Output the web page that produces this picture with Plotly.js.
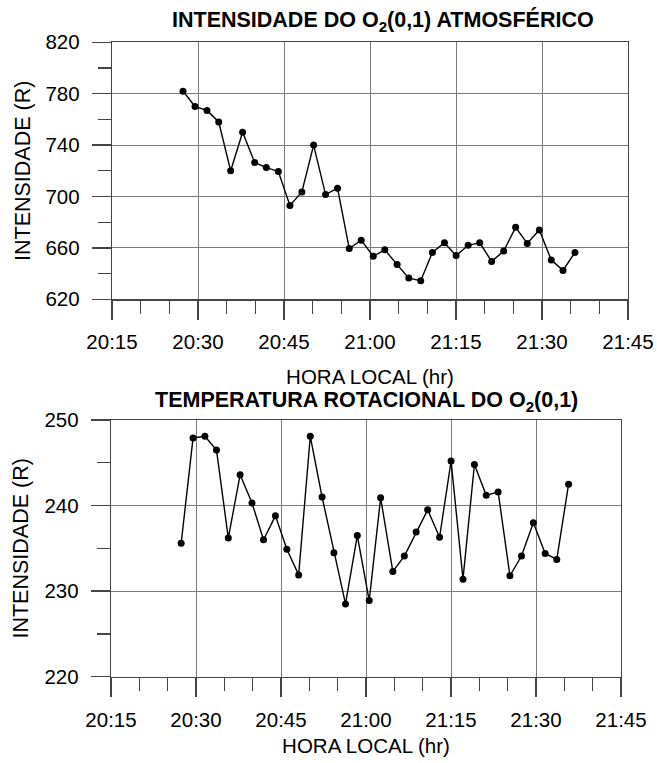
<!DOCTYPE html>
<html>
<head>
<meta charset="utf-8">
<script src="https://cdn.plot.ly/plotly-3.0.1.min.js"></script>
<style>html,body{margin:0;padding:0;background:#fff;}#chart{width:657px;height:763px;}</style>
</head>
<body>
<div id="chart"></div>
<script>
// Local time of each measurement
const horaLocal = [
  "20:27:23","20:29:29","20:31:34","20:33:37","20:35:42","20:37:47","20:39:53","20:41:55",
  "20:44:01","20:46:02","20:48:07","20:50:10","20:52:15","20:54:20","20:56:23","20:58:28",
  "21:00:34","21:02:35","21:04:44","21:06:46","21:08:51","21:10:53","21:12:59","21:15:01",
  "21:17:07","21:19:08","21:21:13","21:23:19","21:25:24","21:27:26","21:29:32","21:31:37",
  "21:33:40","21:35:45"
];
// O2(0,1) intensity (R)
const intensidade = [
  782, 770, 767, 758, 720, 750, 726.5, 722.5,
  719.5, 693, 703.5, 740, 701.5, 706.5, 659.5, 666,
  653.5, 658.5, 647, 636.5, 634.5, 656.5, 664, 654,
  662, 664, 649.5, 657.5, 676, 663.5, 674, 650.5,
  642.5, 656.5
];
// O2(0,1) rotational temperature
const temperatura = [
  235.6, 247.9, 248.1, 246.5, 236.2, 243.6, 240.3, 236.0,
  238.8, 234.9, 231.9, 248.1, 241.0, 234.5, 228.5, 236.5,
  228.9, 240.9, 232.3, 234.1, 236.9, 239.5, 236.3, 245.2,
  231.4, 244.8, 241.2, 241.6, 231.8, 234.1, 238.0, 234.4,
  233.7, 242.5
];
// Tick labels (minutes after 20:00 for positions)
const tickLabels = ["20:15","20:30","20:45","21:00","21:15","21:30","21:45"];
const tickMinutes = [15, 30, 45, 60, 75, 90, 105];

function toMinutes(s) {
  const p = s.split(":").map(Number);
  return (p[0] - 20) * 60 + p[1] + p[2] / 60;
}
const xMin = horaLocal.map(toMinutes);

const W = 657, H = 763;
const px = v => v / W;
const py = v => (H - v) / H;

const font = {family: "Liberation Sans, Arial, sans-serif", color: "#000"};
const axisLine = "#444";
const gridCol = "#7a7a7a";

function xaxis(domain, anchor, standoff) {
  return {
    domain: domain, anchor: anchor,
    range: [15, 105], tickmode: "array", tickvals: tickMinutes, ticktext: tickLabels,
    ticks: "outside", ticklen: 19, tickwidth: 1.3, tickcolor: axisLine,
    minor: {tickmode: "linear", tick0: 15, dtick: 5, ticks: "outside", ticklen: 13, tickwidth: 1.3, tickcolor: axisLine, showgrid: false},
    showline: true, linecolor: axisLine, linewidth: 1.3, mirror: true,
    showgrid: true, gridcolor: gridCol, gridwidth: 1,
    zeroline: false,
    tickfont: Object.assign({size: 20.5}, font),
    ticklabelstandoff: 5,
    title: {text: "HORA LOCAL (hr)", font: Object.assign({size: 20.5}, font), standoff: standoff}
  };
}
function yaxis(domain, anchor, range, dtick, mdtick) {
  return {
    domain: domain, anchor: anchor,
    range: range, tickmode: "linear", tick0: range[0], dtick: dtick,
    ticks: "outside", ticklen: 19, tickwidth: 1.3, tickcolor: axisLine,
    minor: {tickmode: "linear", tick0: range[0], dtick: mdtick, ticks: "outside", ticklen: 13, tickwidth: 1.3, tickcolor: axisLine, showgrid: false},
    showline: true, linecolor: axisLine, linewidth: 1.3, mirror: true,
    showgrid: true, gridcolor: gridCol, gridwidth: 1,
    zeroline: false,
    tickfont: Object.assign({size: 20.5}, font),
    ticklabelstandoff: 8,
    title: {text: "INTENSIDADE (R)", font: Object.assign({size: 21.5}, font), standoff: 9}
  };
}

const traceStyle = {
  mode: "lines+markers",
  line: {color: "#000", width: 1.4},
  marker: {color: "#000", size: 7},
  showlegend: false,
  cliponaxis: false
};

const data = [
  Object.assign({x: xMin, y: intensidade, xaxis: "x", yaxis: "y", type: "scatter"}, traceStyle),
  Object.assign({x: xMin, y: temperatura, xaxis: "x2", yaxis: "y2", type: "scatter"}, traceStyle)
];

const layout = {
  width: W, height: H,
  margin: {l: 0, r: 0, t: 0, b: 0},
  paper_bgcolor: "#fff", plot_bgcolor: "#fff",
  font: font,
  xaxis: xaxis([px(112), px(628)], "y", 17),
  yaxis: yaxis([py(299.3), py(42.3)], "x", [620, 820], 40, 20),
  xaxis2: xaxis([px(111), px(621)], "y2", 9),
  yaxis2: yaxis([py(676.7), py(420)], "x2", [220, 250], 10, 5),
  annotations: [
    {text: "<b>INTENSIDADE DO O<sub>2</sub>(0,1) ATMOSFÉRICO</b>", xref: "paper", yref: "paper",
     x: px(383), y: py(21), xanchor: "center", yanchor: "middle", showarrow: false,
     font: Object.assign({size: 21.5}, font)},
    {text: "<b>TEMPERATURA ROTACIONAL DO O<sub>2</sub>(0,1)</b>", xref: "paper", yref: "paper",
     x: px(366), y: py(401), xanchor: "center", yanchor: "middle", showarrow: false,
     font: Object.assign({size: 21.5}, font)}
  ]
};

Plotly.newPlot("chart", data, layout, {staticPlot: true, displayModeBar: false});
</script>
</body>
</html>
